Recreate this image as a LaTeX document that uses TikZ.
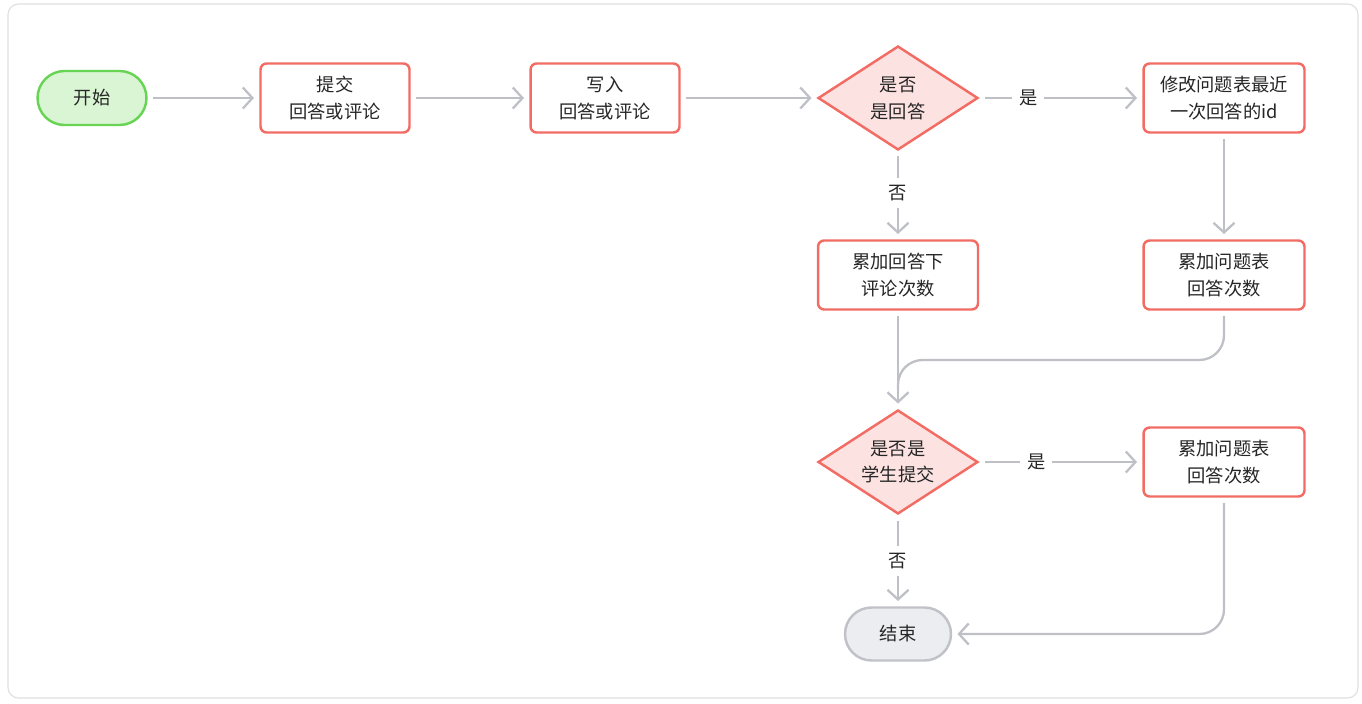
\documentclass[tikz,border=0pt]{standalone}
\usepackage{fontspec}
\setmainfont{Noto Sans CJK SC}
\usepackage{xcolor}
\usetikzlibrary{arrows.meta, shapes.geometric, positioning, calc}
\definecolor{RojoBorde} {RGB}{242,108,100}
\definecolor{RosaFondo} {RGB}{253,226,226}
\definecolor{VerdeBorde}{RGB}{104,212,84}
\definecolor{VerdeFondo}{RGB}{218,245,212}
\definecolor{GrisFin}   {RGB}{192,194,200}
\definecolor{GrisFondo} {RGB}{236,237,240}
\definecolor{GrisLinea} {RGB}{190,192,198}
\definecolor{Texto}     {RGB}{38,38,38}
\definecolor{Marco}     {RGB}{222,222,222}

\begin{document}
\begin{tikzpicture}[
      x=0.02cm,y=-0.02cm,
      font=\fontsize{10.4}{15.3}\selectfont,
      caja/.style ={draw=RojoBorde,fill=white,text=Texto,line width=1.4pt,
                    rounded corners=3.5pt,minimum width=2.98cm,
                    minimum height=1.38cm,align=center,inner sep=2pt},
      rombo/.style={diamond,draw=RojoBorde,fill=RosaFondo,text=Texto,
                    line width=1.4pt,minimum width=3.2cm,minimum height=2.08cm,
                    aspect=1.54,align=center,inner sep=0pt},
      inicio/.style={draw=VerdeBorde,fill=VerdeFondo,text=Texto,line width=1.4pt,
                    rounded corners=0.54cm,minimum width=2.18cm,
                    minimum height=1.08cm},
      fin/.style  ={draw=GrisFin,fill=GrisFondo,text=Texto,line width=1.4pt,
                    rounded corners=0.53cm,minimum width=2.12cm,
                    minimum height=1.06cm},
      ln/.style   ={GrisLinea,line width=1.3pt},
      fl/.style   ={ln,-{Straight Barb[length=5.5pt,width=12pt,line width=1.3pt]},
                    shorten <=3pt,shorten >=3pt},
      etq/.style  ={fill=white,text=Texto,inner sep=4pt}]
      % marco
      \useasboundingbox (0,0) rectangle (1362,703);
      \draw[Marco,line width=0.6pt,rounded corners=6pt] (8,4) rectangle (1358,698);
      % nodos
      \node[inicio] (ini)   at (92,98)   {开始};
      \node[caja]   (env)   at (335,98)  {提交\\回答或评论};
      \node[caja]   (esc)   at (605,98)  {写入\\回答或评论};
      \node[rombo]  (resp)  at (898,98)  {是否\\是回答};
      \node[caja,minimum width=3.22cm]
                    (mod)   at (1224,98) {修改问题表最近\\一次回答的id};
      \node[caja,minimum width=3.2cm]
                    (accC)  at (898,275) {累加回答下\\评论次数};
      \node[caja,minimum width=3.22cm]
                    (accQ)  at (1224,275){累加问题表\\回答次数};
      \node[rombo]  (alum)  at (898,462) {是否是\\学生提交};
      \node[caja,minimum width=3.22cm]
                    (accQb) at (1224,462){累加问题表\\回答次数};
      \node[fin]    (fin)   at (898,634) {结束};
      \coordinate   (junta) at (898,360);
      % conectores
      \foreach \a/\b in {ini/env,env/esc,esc/resp,mod/accQ,accC/alum}
        \draw[fl] (\a)--(\b);
      \draw[fl] (resp)--(mod) node[etq,pos=0.3]{是};
      \draw[fl] (resp)--(accC) node[etq,pos=0.47]{否};
      \draw[fl] (alum)--(accQb) node[etq,pos=0.35]{是};
      \draw[fl] (alum)--(fin) node[etq,pos=0.5]{否};
      \draw[ln,shorten <=3pt,rounded corners=14pt]
        (accQ.south)|-(junta)--++(0,30);
      \draw[fl,rounded corners=14pt] (accQb.south)|-(fin.east);
    \end{tikzpicture}
\end{document}
